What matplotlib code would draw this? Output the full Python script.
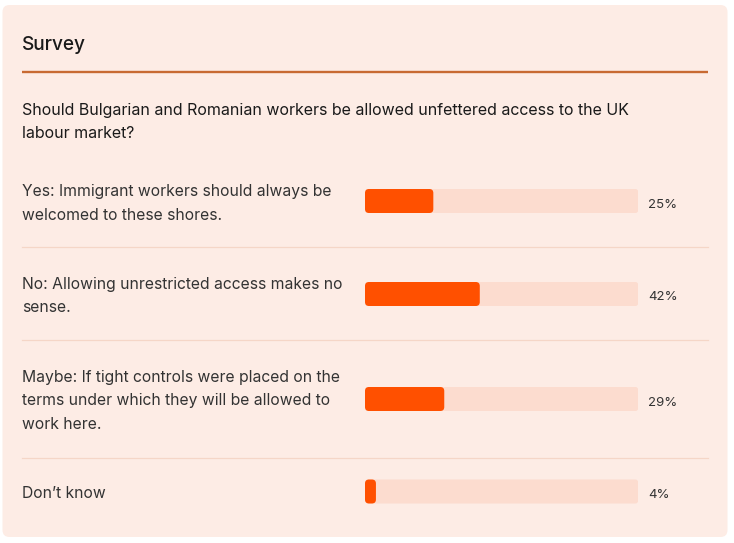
import matplotlib
matplotlib.use("Agg")
import matplotlib.pyplot as plt
from matplotlib.patches import FancyBboxPatch

plt.rcParams['font.family'] = ['Inter', 'DejaVu Sans']

# ---- data ----
title = "Survey"
question = "Should Bulgarian and Romanian workers be allowed unfettered access to the UK\nlabour market?"
options = [
    "Yes: Immigrant workers should always be\nwelcomed to these shores.",
    "No: Allowing unrestricted access makes no\nsense.",
    "Maybe: If tight controls were placed on the\nterms under which they will be allowed to\nwork here.",
    "Don\u2019t know",
]
percents = [25, 42, 29, 4]

# ---- layout (pixels) ----
W, H = 734, 543
row_centers = [201, 294, 399, 491.5]
label_baselines = [196, 289, 382, 498]
separators = [247, 340, 457.5]
bar_h = 24
bar_x0, bar_x1 = 365, 638.3
line_step = 23.5

card_bg = "#fdece5"
track_col = "#fcdccf"
fill_col = "#ff5000"
accent = "#c86a32"
sep_col = "#f5d6c7"

fig = plt.figure(figsize=(W / 100, H / 100), dpi=100)
fig.patch.set_facecolor("white")
ax = fig.add_axes([0, 0, 1, 1])
ax.set_xlim(0, W)
ax.set_ylim(H, 0)
ax.axis("off")

card = FancyBboxPatch((2.5, 5), 725, 532, boxstyle="round,pad=0,rounding_size=7",
                      facecolor=card_bg, edgecolor="none", zorder=0)
ax.add_patch(card)

ax.text(22, 50, title, fontsize=13.7, color="#1a1a1a", va="baseline", ha="left", fontweight="medium")
ax.plot([22, 708], [72, 72], color=accent, lw=1.7, solid_capstyle="butt")

for i, line in enumerate(question.split("\n")):
    ax.text(22, 115 + i * line_step, line, fontsize=11.5, color="#1a1a1a", va="baseline", ha="left")

for base, lab in zip(label_baselines, options):
    for i, line in enumerate(lab.split("\n")):
        ax.text(22, base + i * line_step, line, fontsize=11.3, color="#333333",
                va="baseline", ha="left")

for y in separators:
    ax.plot([22, 708], [y, y], color=sep_col, lw=0.9)

# bars axes: x in percent
bx = fig.add_axes([bar_x0 / W, 0, (bar_x1 - bar_x0) / W, 1])
bx.set_xlim(0, 100)
bx.set_ylim(H, 0)
bx.axis("off")
bx.patch.set_alpha(0)

px_per_unit = (bar_x1 - bar_x0) / 100.0

def rounded(bars, color, r_px):
    for b in bars:
        x, y = b.get_x(), b.get_y()
        w, h = b.get_width(), b.get_height()
        b.set_visible(False)
        r = min(r_px, w * px_per_unit / 2) / px_per_unit
        p = FancyBboxPatch((x, y), w, h,
                           boxstyle=f"round,pad=0,rounding_size={r}",
                           mutation_aspect=px_per_unit,
                           facecolor=color, edgecolor="none")
        bx.add_patch(p)

tracks = bx.barh(row_centers, [100] * len(percents), height=bar_h)
rounded(tracks, track_col, 3)
fills = bx.barh(row_centers, percents, height=bar_h)
rounded(fills, fill_col, 4)

for yc, p in zip(row_centers, percents):
    ax.text(648, yc + 6.5, f"{p}%", fontsize=9.5, color="#333333", va="baseline", ha="left")

fig.savefig("out.png", dpi=100, facecolor="white")
